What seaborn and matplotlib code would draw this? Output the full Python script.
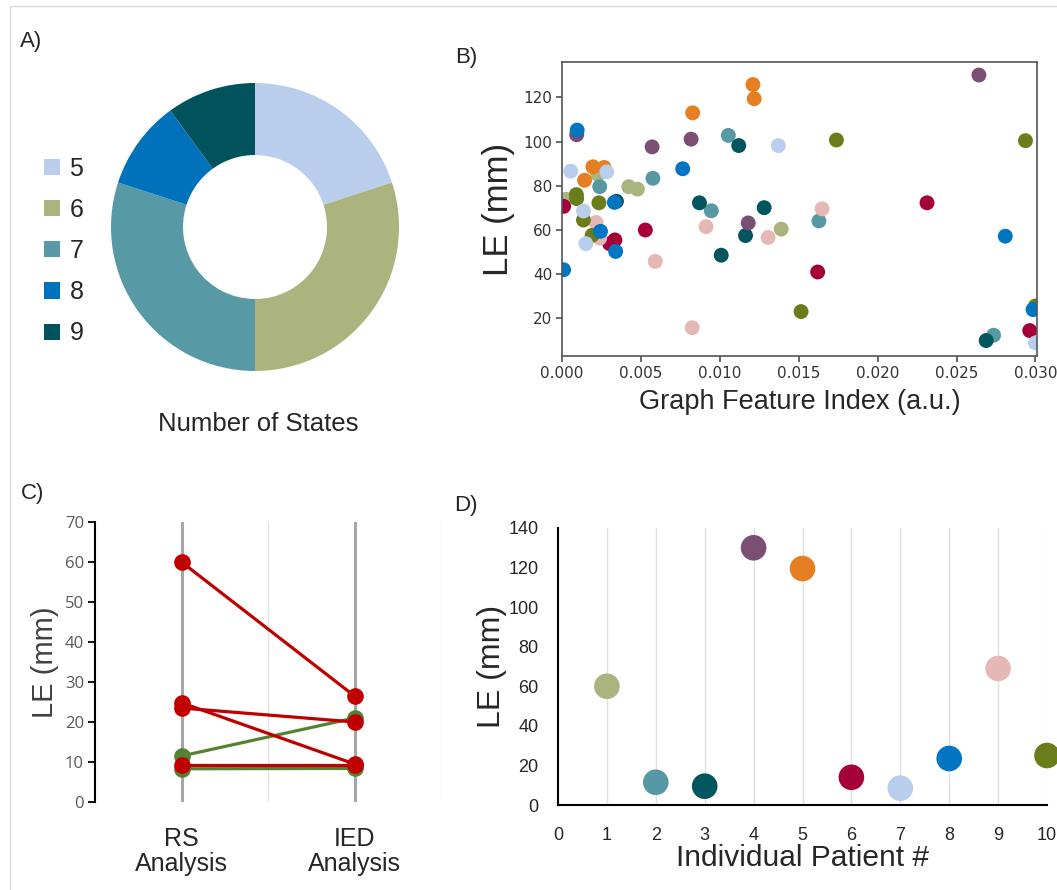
import numpy as np
import pandas as pd
import matplotlib
matplotlib.use('Agg')
import matplotlib.pyplot as plt
from matplotlib.patches import Patch
from matplotlib.lines import Line2D
import seaborn as sns

# %% data

# A) number of states per patient
state_labels = ['5', '6', '7', '8', '9']
state_counts = [2, 3, 3, 1, 1]
state_colors = ['#b9cdec', '#abb47f', '#5799a4', '#0072bc', '#00535d']

# patient colours (shared by B and D)
patient_ids = [1, 2, 3, 4, 5, 6, 7, 8, 9, 10]
patient_colors = ['#a9b47f', '#5699a5', '#00555e', '#7a4f73', '#e67e22',
                  '#a5003a', '#b9cdec', '#0075c1', '#e5b8b5', '#6a7d1a']

# B) graph feature index vs localisation error
b_patient = [1, 1, 1, 1, 1,
             2, 2, 2, 2, 2, 2,
             3, 3, 3, 3, 3, 3, 3,
             4, 4, 4, 4, 4,
             5, 5, 5, 5, 5, 5,
             6, 6, 6, 6, 6, 6, 6,
             9, 9, 9, 9, 9, 9, 9,
             10, 10, 10, 10, 10, 10, 10, 10, 10,
             7, 7, 7, 7, 7, 7,
             8, 8, 8, 8, 8, 8, 8, 8]
b_index = [0.00226, 0.00423, 0.00478, 0.00025, 0.01389,
           0.01054, 0.00576, 0.00239, 0.00946, 0.01628, 0.02735,
           0.01120, 0.00871, 0.01281, 0.01163, 0.01009, 0.02688, 0.00345,
           0.02642, 0.00093, 0.00818, 0.00571, 0.01180,
           0.01210, 0.01218, 0.00828, 0.00196, 0.00267, 0.00143,
           0.00010, 0.02313, 0.00528, 0.00335, 0.00302, 0.01620, 0.02964,
           0.01648, 0.00216, 0.00239, 0.00913, 0.01306, 0.00591, 0.00825,
           0.01739, 0.02937, 0.00091, 0.00093, 0.00234, 0.00136, 0.00191, 0.01515, 0.03000,
           0.01371, 0.00055, 0.00284, 0.00136, 0.00151, 0.03000,
           0.00096, 0.00765, 0.00332, 0.00244, 0.00340, 0.00010, 0.02809, 0.02985]
b_le = [85.2, 79.6, 78.5, 73.9, 60.4,
        102.8, 83.4, 79.6, 68.7, 64.1, 12.4,
        98.2, 72.3, 70.1, 57.5, 48.6, 10.0, 73.0,
        130.1, 103.1, 101.1, 97.6, 63.2,
        125.8, 119.4, 113.0, 88.6, 88.3, 82.5,
        70.7, 72.3, 60.0, 55.5, 53.8, 41.0, 14.5,
        69.6, 63.4, 56.3, 61.5, 56.6, 45.8, 15.8,
        100.7, 100.4, 76.0, 74.2, 72.3, 64.5, 57.6, 23.1, 25.6,
        98.2, 86.6, 86.3, 68.6, 53.8, 8.9,
        105.2, 87.7, 72.5, 59.4, 50.3, 42.0, 57.2, 24.0]

# C) RS vs IED analysis
c_rs = [11.5, 8.3, 60.0, 24.8, 23.5, 9.2]
c_ied = [21.0, 8.4, 26.5, 9.5, 20.0, 9.2]
c_group = ['better', 'better', 'worse', 'worse', 'worse', 'worse']
c_ticklabels = ['RS\nAnalysis', 'IED\nAnalysis']

# D) LE per patient
d_le = [60, 11.5, 9.5, 130, 119.5, 14, 8.5, 23.5, 69, 25]

# %% figure
sns.set_theme(style='white')
plt.rcParams['font.family'] = ['Liberation Sans', 'DejaVu Sans']

W, H = 1057, 890
fig = plt.figure(figsize=(W / 100, H / 100), dpi=100)


def box(l, t, r, b):
    return [l / W, 1 - b / H, (r - l) / W, (b - t) / H]


# frame lines
fig.add_artist(Line2D([10 / W, 1], [1 - 6 / H, 1 - 6 / H], color='#d9d9d9', lw=1))
fig.add_artist(Line2D([10 / W, 10 / W], [0, 1 - 6 / H], color='#d9d9d9', lw=1))

# panel letters
for lbl, x, y in [('A)', 20, 42), ('B)', 455, 57), ('C)', 21, 493), ('D)', 454, 505)]:
    fig.text(x / W, 1 - y / H, lbl, fontsize=16, va='center', ha='left')

# ---- A
axA = fig.add_axes(box(111, 83, 399, 371))
axA.pie(state_counts, colors=state_colors, startangle=90, counterclock=False,
        wedgeprops=dict(width=0.5, edgecolor='none'))
axA.set_xlim(-1, 1)
axA.set_ylim(-1, 1)
axA.set_aspect('equal')
handles = [Patch(facecolor=c, edgecolor='none') for c in state_colors]
fig.legend(handles, state_labels, loc='center left',
           bbox_to_anchor=(44 / W, 1 - 251 / H), frameon=False, fontsize=18,
           handlelength=0.62, handleheight=0.62, handletextpad=0.4,
           labelspacing=0.69, borderpad=0, borderaxespad=0)
fig.text(258 / W, 1 - 424 / H, 'Number of States', fontsize=18.5,
         ha='center', va='center')

# ---- B
axB = fig.add_axes(box(562, 62, 1037, 356))
dfB = pd.DataFrame({'gfi': b_index, 'le': b_le, 'patient': b_patient})
sns.scatterplot(data=dfB, x='gfi', y='le', hue='patient',
                palette=dict(zip(patient_ids, patient_colors)),
                s=115, linewidth=0, legend=False, ax=axB)
axB.set_xlim(0, 0.0301)
axB.set_ylim(3, 136)
axB.set_xticks([0, 0.005, 0.010, 0.015, 0.020, 0.025, 0.030])
axB.set_xticklabels(['0.000', '0.005', '0.010', '0.015', '0.020', '0.025', '0.030'])
axB.set_yticks([20, 40, 60, 80, 100, 120])
for sp in axB.spines.values():
    sp.set_color('#555555')
    sp.set_linewidth(1.2)
axB.tick_params(axis='both', which='both', direction='out', length=4,
                color='#555555', labelsize=11, labelcolor='#333333', pad=3,
                left=True, bottom=True)
for t in axB.get_xticklabels() + axB.get_yticklabels():
    t.set_family('DejaVu Sans')
axB.set_xlabel('Graph Feature Index (a.u.)', fontsize=19.5, labelpad=6)
axB.set_ylabel('LE (mm)', fontsize=25, labelpad=6)

# ---- C
axC = fig.add_axes(box(95, 522, 441, 802))
rows = []
for i, (a, b, g) in enumerate(zip(c_rs, c_ied, c_group)):
    rows.append({'pair': i, 'pos': 1, 'le': a, 'group': g})
    rows.append({'pair': i, 'pos': 3, 'le': b, 'group': g})
dfC = pd.DataFrame(rows)
for x, c, lw in [(1, '#a6a6a6', 2.2), (2, '#e3e3e3', 1.0), (3, '#a6a6a6', 2.2), (4, '#e3e3e3', 1.0)]:
    axC.axvline(x, color=c, lw=lw, zorder=0)
sns.lineplot(data=dfC, x='pos', y='le', units='pair', hue='group', estimator=None,
             palette={'better': '#548235', 'worse': '#c00000'},
             hue_order=['better', 'worse'], marker='o', markersize=12,
             markeredgewidth=0, linewidth=2.3, legend=False, ax=axC)
axC.set_xlim(0, 4)
axC.set_ylim(0, 70)
axC.set_yticks(range(0, 71, 10))
axC.set_xticks([1, 3])
axC.set_xticklabels(c_ticklabels, fontsize=18, linespacing=1.05)
for sp in ['top', 'right', 'bottom']:
    axC.spines[sp].set_visible(False)
axC.spines['left'].set_color('black')
axC.spines['left'].set_linewidth(1.5)
axC.tick_params(axis='y', left=True, direction='out', length=5, width=1.3,
                color='black', labelsize=12, labelcolor='#595959', pad=3)
axC.tick_params(axis='x', bottom=False, pad=12)
for t in axC.get_yticklabels():
    t.set_family(['Open Sans', 'DejaVu Sans'])
axC.set_xlabel('')
axC.set_ylabel('LE (mm)', fontsize=21, color='#404040', labelpad=4)

# ---- D
axD = fig.add_axes(box(558, 528, 1047, 805))
dfD = pd.DataFrame({'patient': patient_ids, 'le': d_le})
axD.set_axisbelow(True)
for x in patient_ids:
    axD.axvline(x, color='#e0e0e0', lw=1, zorder=0)
sns.scatterplot(data=dfD, x='patient', y='le', hue='patient',
                palette=dict(zip(patient_ids, patient_colors)),
                s=340, linewidth=0, legend=False, clip_on=False, ax=axD, zorder=3)
axD.set_xlim(0, 10)
axD.set_ylim(0, 140)
axD.set_xticks(range(0, 11))
axD.set_yticks(range(0, 141, 20))
for sp in ['top', 'right']:
    axD.spines[sp].set_visible(False)
for sp in ['left', 'bottom']:
    axD.spines[sp].set_color('black')
    axD.spines[sp].set_linewidth(1.5)
axD.tick_params(axis='x', bottom=False, labelsize=13, pad=10)
axD.tick_params(axis='y', left=False, labelsize=13, pad=8)
axD.set_xlabel('Individual Patient #', fontsize=21.5, labelpad=0)
axD.set_ylabel('LE (mm)', fontsize=23, labelpad=1)

fig.savefig('out.png', dpi=100)
